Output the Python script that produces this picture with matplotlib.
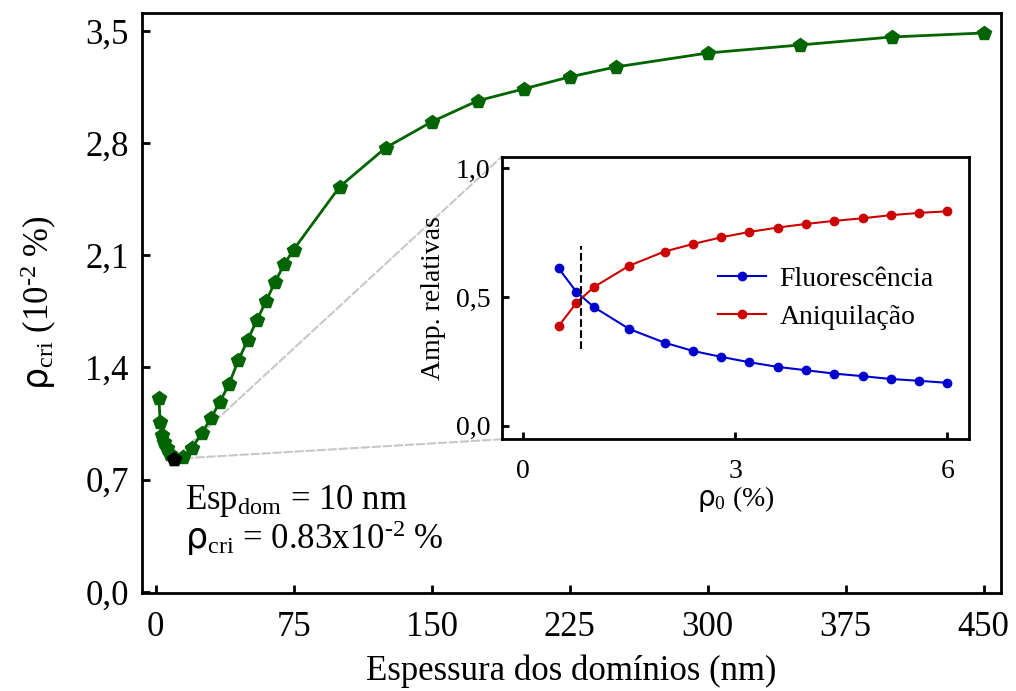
"""Critical concentration vs domain thickness, with inset of relative amplitudes."""

import matplotlib

matplotlib.use("Agg")
import matplotlib.pyplot as plt
from matplotlib.patches import ConnectionPatch

plt.rcParams["font.family"] = ["Liberation Serif", "DejaVu Sans"]
plt.rcParams["mathtext.fontset"] = "custom"
plt.rcParams["mathtext.rm"] = "Liberation Serif"
plt.rcParams["mathtext.it"] = "Liberation Serif"
plt.rcParams["mathtext.sf"] = "DejaVu Sans"

# main curve: critical concentration (10^-2 %) vs domain thickness (nm)
thickness = [1.8, 2.4, 3.2, 4.5, 6, 8, 10, 15, 20, 25, 30, 35, 40, 45, 50,
             55, 60, 65, 70, 75, 100, 125, 150, 175, 200, 225, 250, 300,
             350, 400, 450]
rho_cri = [1.21, 1.06, 0.98, 0.935, 0.895, 0.86, 0.83, 0.842, 0.90, 0.99,
           1.083, 1.187, 1.30, 1.446, 1.571, 1.695, 1.814, 1.936, 2.047,
           2.136, 2.528, 2.771, 2.933, 3.064, 3.138, 3.213, 3.275, 3.362,
           3.412, 3.462, 3.487]
min_thickness = 10
min_rho = 0.83

main_xticks = [0, 75, 150, 225, 300, 375, 450]
main_yticks = [0.0, 0.7, 1.4, 2.1, 2.8, 3.5]
main_ylabels = ["0,0", "0,7", "1,4", "2,1", "2,8", "3,5"]

# inset: relative amplitudes vs rho_0 (%)
rho0 = [0.5, 0.75, 1.0, 1.5, 2.0, 2.4, 2.8, 3.2, 3.6, 4.0, 4.4, 4.8, 5.2,
        5.6, 6.0]
fluor = [0.612, 0.521, 0.461, 0.376, 0.323, 0.291, 0.268, 0.247, 0.229,
         0.216, 0.203, 0.193, 0.182, 0.175, 0.167]
aniq = [0.387, 0.477, 0.539, 0.622, 0.677, 0.706, 0.732, 0.753, 0.770,
        0.784, 0.796, 0.806, 0.818, 0.827, 0.833]
cross_x = 0.823

inset_xticks = [0, 3, 6]
inset_yticks = [0.0, 0.5, 1.0]
inset_ylabels = ["0,0", "0,5", "1,0"]

fig = plt.figure(figsize=(10.16, 6.91), dpi=100)
ax = fig.add_axes([0.1398, 0.1423, 0.8455, 0.8385])

ax.plot(thickness, rho_cri, color="#006400", lw=2, marker="p", ms=10,
        zorder=3)
ax.plot([min_thickness], [min_rho], ls="none", color="black", marker="p",
        ms=10, zorder=4)

ax.set_xlim(-7.4, 459.4)
ax.set_ylim(-0.005, 3.61)
ax.set_xticks(main_xticks)
ax.set_yticks(main_yticks)
ax.set_yticklabels(main_ylabels)
ax.tick_params(direction="in", length=6, width=2, labelsize=25)
ax.tick_params(axis="x", pad=13)
ax.tick_params(axis="y", pad=9.5)
for sp in ax.spines.values():
    sp.set_linewidth(2)
ax.set_xlabel("Espessura dos domínios (nm)", fontsize=25, labelpad=8)
ax.set_ylabel(r"$\mathsf{\rho}_{\rm cri}$ (10$^{\text{-2}}$ %)", fontsize=25,
              labelpad=19)

ax.text(16, 0.52, r"Esp$_{\rm dom}$ = 10 nm", fontsize=25, va="baseline")
ax.text(16, 0.27, r"$\mathsf{\rho}_{\rm cri}$ = 0.83x10$^{\text{-2}}$ %",
        fontsize=25, va="baseline")

axin = fig.add_axes([0.4938, 0.3643, 0.4602, 0.4089])
axin.plot(rho0, fluor, color="#0000cc", lw=1.5, marker="o", ms=6,
          label="Fluorescência")
axin.plot(rho0, aniq, color="#cc0000", lw=1.5, marker="o", ms=6,
          label="Aniquilação")
axin.plot([cross_x, cross_x], [0.30, 0.70], color="black", ls="--", lw=1.5)

axin.set_xlim(-0.305, 6.31)
axin.set_ylim(-0.052, 1.045)
axin.set_xticks(inset_xticks)
axin.set_yticks(inset_yticks)
axin.set_yticklabels(inset_ylabels)
axin.tick_params(direction="in", length=5, width=2, labelsize=20)
axin.tick_params(axis="x", pad=14)
axin.tick_params(axis="y", pad=8)
for sp in axin.spines.values():
    sp.set_linewidth(2)
axin.set_xlabel(r"$\mathsf{\rho}_{0}$ (%)", fontsize=20, labelpad=0)
axin.set_ylabel("Amp. relativas", fontsize=20, labelpad=7.5)
axin.legend(loc="center left", bbox_to_anchor=(0.41, 0.5), frameon=False,
            fontsize=20, handlelength=1.7, handletextpad=0.5,
            labelspacing=0.45)

# dashed zoom lines from the minimum to the inset corners
for corner in [(0, 1), (0, 0)]:
    con = ConnectionPatch(xyA=(min_thickness, min_rho), coordsA=ax.transData,
                          xyB=corner, coordsB=axin.transAxes,
                          color="#c8c8c8", ls="--", lw=1.5, zorder=1)
    ax.add_artist(con)

fig.savefig("out.png", dpi=100)
